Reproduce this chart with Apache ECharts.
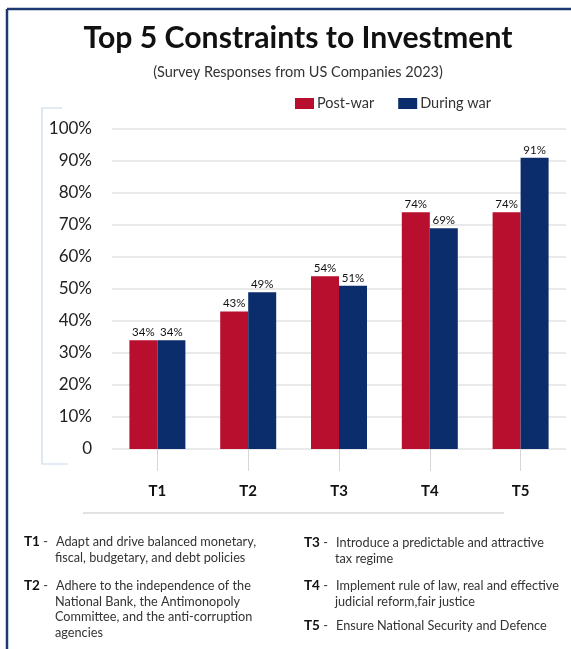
<!DOCTYPE html>
<html>
<head>
<meta charset="utf-8">
<style>
  html, body { margin: 0; padding: 0; background: #ffffff; }
  #chart { width: 571px; height: 649px; }
</style>
<script src="https://cdn.jsdelivr.net/npm/echarts@6/dist/echarts.min.js"></script>
</head>
<body>
<div id="chart"></div>
<script>
// Survey categories and shares (%) for each period
const categories = ['T1', 'T2', 'T3', 'T4', 'T5'];
const postWar = [34, 43, 54, 74, 74];
const duringWar = [34, 49, 51, 69, 91];
const seriesNames = ['Post-war', 'During war'];
const yTicks = [0, 10, 20, 30, 40, 50, 60, 70, 80, 90, 100];

// Footnote descriptions for each code
const notesLeft = [
  { code: 'T1', lines: ['Adapt and drive balanced monetary,', 'fiscal, budgetary, and debt policies'] },
  { code: 'T2', lines: ['Adhere to the independence of the', 'National Bank, the Antimonopoly', 'Committee, and the anti-corruption', 'agencies'] }
];
const notesRight = [
  { code: 'T3', lines: ['Introduce a predictable and attractive', 'tax regime'] },
  { code: 'T4', lines: ['Implement rule of law, real and effective', 'judicial reform,fair justice'] },
  { code: 'T5', lines: ['Ensure National Security and Defence'] }
];

const FONT = 'Lato, "Open Sans", sans-serif';
const RED = '#b80f2f';
const BLUE = '#0b2d6b';

// Footnote block: bold code with a dash, then wrapped description lines
function noteGraphics(notes, x, yCenters, textDx, contDx) {
  const out = [];
  notes.forEach((n, i) => {
    const yc = yCenters[i];
    out.push({
      type: 'text', x: x, y: yc,
      style: {
        text: '{c|' + n.code + '} -',
        font: '12.7px ' + FONT, fill: '#333', verticalAlign: 'middle',
        rich: { c: { fontWeight: 'bold', fontSize: 13.5, fill: '#111', fontFamily: FONT } }
      }
    });
    n.lines.forEach((line, k) => {
      out.push({
        type: 'text', x: x + (k === 0 ? textDx : contDx), y: yc + 15.6 * k,
        style: { text: line, font: '12.7px ' + FONT, fill: '#333', verticalAlign: 'middle' }
      });
    });
  });
  return out;
}

const chart = echarts.init(document.getElementById('chart'));
const option = {
  backgroundColor: '#ffffff',
  animation: false,
  title: [
    {
      text: 'Top 5 Constraints to Investment',
      left: 293, top: 18, textAlign: 'center',
      textStyle: { fontFamily: FONT, fontWeight: 'bold', fontSize: 30.2, color: '#111' }
    },
    {
      text: '(Survey Responses from US Companies 2023)',
      left: 293, top: 60, textAlign: 'center',
      textStyle: { fontFamily: FONT, fontWeight: 'normal', fontSize: 14.5, color: '#333' }
    }
  ],
  legend: {
    data: seriesNames,
    left: 295, top: 96, padding: 0,
    itemWidth: 19, itemHeight: 11, itemGap: 24,
    icon: 'rect',
    textStyle: { fontFamily: FONT, fontSize: 14.5, color: '#333', padding: [0, 0, 0, -2] }
  },
  grid: { left: 112, right: 5, top: 129, bottom: 200, containLabel: false },
  xAxis: {
    type: 'category',
    data: categories,
    offset: 5,
    axisLine: { show: false },
    axisTick: { show: true, alignWithLabel: true, length: 22, lineStyle: { color: '#d6d6d6' } },
    axisLabel: { margin: 30, fontFamily: FONT, fontWeight: 'bold', fontSize: 15, color: '#111' }
  },
  yAxis: {
    type: 'value',
    min: yTicks[0], max: yTicks[yTicks.length - 1], interval: 10,
    axisLine: { show: false },
    axisTick: { show: false },
    splitLine: { lineStyle: { color: '#e2e2e2', width: 1.5 } },
    axisLabel: {
      margin: 20, fontFamily: FONT, fontSize: 17, color: '#222',
      formatter: v => (v === 0 ? '0' : v + '%')
    }
  },
  series: [
    {
      name: seriesNames[0], type: 'bar', data: postWar,
      barWidth: 28, barGap: '0%',
      itemStyle: { color: RED },
      label: { show: true, position: 'top', distance: 2, formatter: '{c}%', fontFamily: FONT, fontSize: 11.5, color: '#111' }
    },
    {
      name: seriesNames[1], type: 'bar', data: duringWar,
      barWidth: 28, barGap: '0%',
      itemStyle: { color: BLUE },
      label: { show: true, position: 'top', distance: 2, formatter: '{c}%', fontFamily: FONT, fontSize: 11.5, color: '#111' }
    }
  ],
  graphic: [
    // frame along top and left edges
    { type: 'line', shape: { x1: 7, y1: 9, x2: 571, y2: 9 }, style: { stroke: '#1d3a70', lineWidth: 2.5 } },
    { type: 'line', shape: { x1: 7, y1: 9, x2: 7, y2: 649 }, style: { stroke: '#1d3a70', lineWidth: 2.5 } },
    // light bracket beside the value axis
    { type: 'polyline', shape: { points: [[62, 108], [42, 108], [42, 464], [68, 464]] }, style: { stroke: '#c9d8e8', lineWidth: 1.2, fill: null } },
    // separator above the footnotes
    { type: 'line', shape: { x1: 83, y1: 513, x2: 504, y2: 513 }, style: { stroke: '#d8d8d8', lineWidth: 1.5 } }
  ]
    .concat(noteGraphics(notesLeft, 24, [542, 586], 32, 31))
    .concat(noteGraphics(notesRight, 304, [543, 586, 626], 32, 31))
};
chart.setOption(option);
</script>
</body>
</html>
